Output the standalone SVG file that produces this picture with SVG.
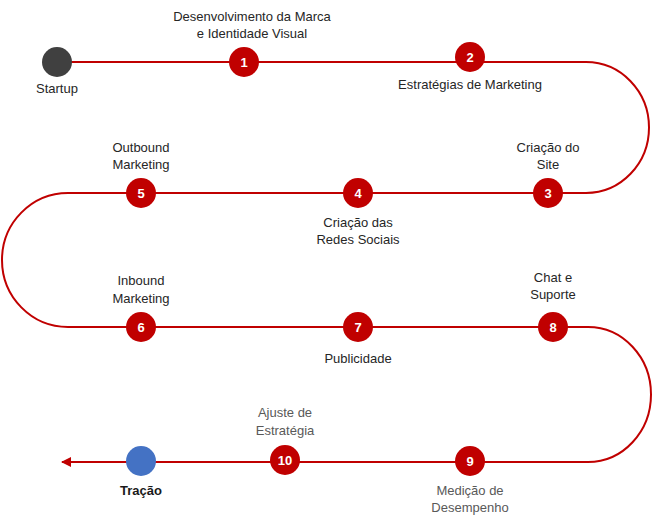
<svg xmlns="http://www.w3.org/2000/svg" width="654" height="525" viewBox="0 0 654 525">
<defs>
<style>
.lbl{font-family:"Liberation Sans",Arial,sans-serif;font-size:13px;fill:#262626;text-anchor:middle}
.gray{fill:#595959}
.bold{font-weight:bold;fill:#1a1a1a}
.num{font-family:"Liberation Sans",Arial,sans-serif;font-size:13px;font-weight:bold;fill:#fff;text-anchor:middle}
.step{fill:#C00000}
.path{fill:none;stroke:#C00000;stroke-width:2}
</style>
<marker id="arr" viewBox="0 0 10 10" refX="9" refY="5" markerWidth="5" markerHeight="5" orient="auto-start-reverse">
<path d="M0,0 L10,5 L0,10 z" fill="#C00000"/>
</marker>
</defs>
<rect width="654" height="525" fill="#fff"/>
<g id="connectors">
<path class="path" marker-end="url(#arr)" d="M57,62 H586 A63,65.5 0 0 1 586,193 H68 A66,67 0 0 0 68,327 H588 A63,67.5 0 0 1 588,462 H62"/>
</g>
<g id="startup"><circle cx="57" cy="62" r="15" fill="#404040"/><text class="lbl" x="57" y="93">Startup</text></g>
<g id="n1"><circle class="step" cx="244" cy="62" r="15"/><text class="num" x="244" y="67">1</text>
<text class="lbl" x="252" y="21">Desenvolvimento da Marca</text><text class="lbl" x="252" y="38">e Identidade Visual</text></g>
<g id="n2"><circle class="step" cx="470" cy="57" r="15"/><text class="num" x="470" y="62">2</text>
<text class="lbl" x="470" y="89">Estratégias de Marketing</text></g>
<g id="n3"><circle class="step" cx="548" cy="193" r="15"/><text class="num" x="548" y="198">3</text>
<text class="lbl" x="548" y="152">Criação do</text><text class="lbl" x="548" y="169">Site</text></g>
<g id="n4"><circle class="step" cx="358" cy="193" r="15"/><text class="num" x="358" y="198">4</text>
<text class="lbl" x="358" y="227">Criação das</text><text class="lbl" x="358" y="244">Redes Sociais</text></g>
<g id="n5"><circle class="step" cx="141" cy="193" r="15"/><text class="num" x="141" y="198">5</text>
<text class="lbl" x="141" y="152">Outbound</text><text class="lbl" x="141" y="169">Marketing</text></g>
<g id="n6"><circle class="step" cx="141" cy="327" r="15"/><text class="num" x="141" y="332">6</text>
<text class="lbl" x="141" y="285">Inbound</text><text class="lbl" x="141" y="303">Marketing</text></g>
<g id="n7"><circle class="step" cx="358" cy="327" r="15"/><text class="num" x="358" y="332">7</text>
<text class="lbl" x="358" y="363">Publicidade</text></g>
<g id="n8"><circle class="step" cx="553" cy="327" r="15"/><text class="num" x="553" y="332">8</text>
<text class="lbl" x="553" y="282">Chat e</text><text class="lbl" x="553" y="299">Suporte</text></g>
<g id="n9"><circle class="step" cx="470" cy="461" r="15"/><text class="num" x="470" y="466">9</text>
<text class="lbl gray" x="470" y="495">Medição de</text><text class="lbl gray" x="470" y="512">Desempenho</text></g>
<g id="n10"><circle class="step" cx="285" cy="460" r="15"/><text class="num" x="285" y="465">10</text>
<text class="lbl gray" x="285" y="417">Ajuste de</text><text class="lbl gray" x="285" y="435">Estratégia</text></g>
<g id="tracao"><circle cx="141" cy="461" r="15" fill="#4472C4"/><text class="lbl bold" x="141" y="495">Tração</text></g>
</svg>
